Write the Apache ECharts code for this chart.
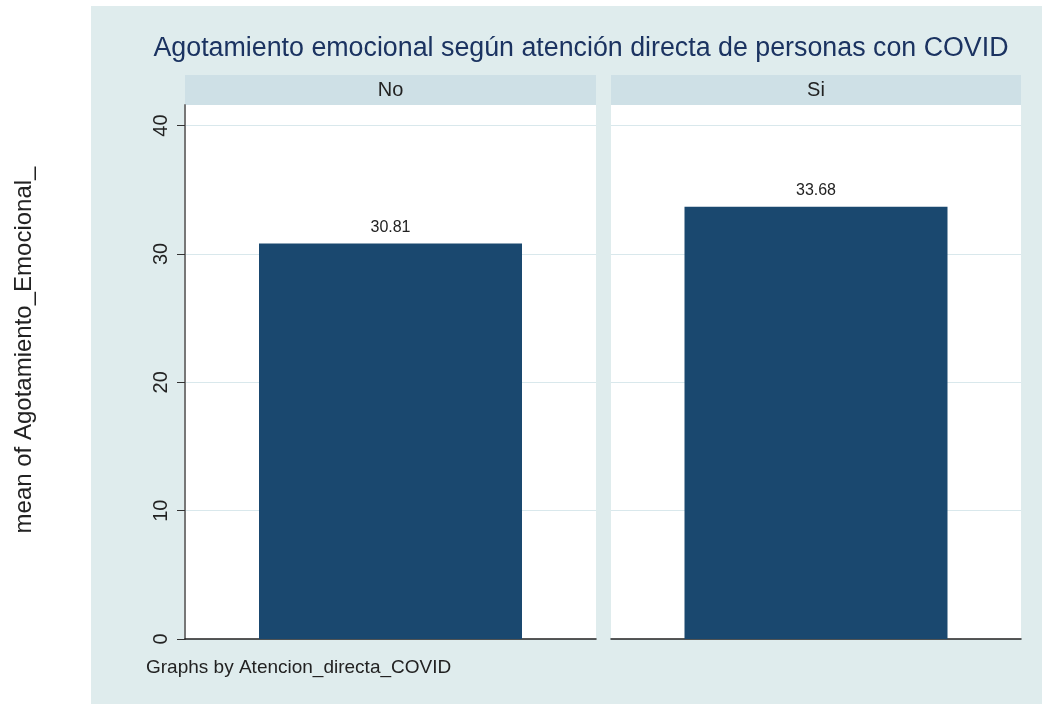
<!DOCTYPE html>
<html>
<head>
<meta charset="utf-8">
<script src="https://cdn.jsdelivr.net/npm/echarts@6/dist/echarts.min.js"></script>
<style>
  html, body { margin: 0; padding: 0; background: #fff; }
  #chart { width: 1042px; height: 704px; }
</style>
</head>
<body>
<div id="chart"></div>
<script>
// panels (by Atencion_directa_COVID) and the mean in each
var panels = ['No', 'Si']
var means = [30.81, 33.68]
var yTicks = [0, 10, 20, 30, 40]

var font = '"Liberation Sans", Arial, sans-serif'
var barColor = '#1a486f'
var gridPos = [
  { left: 185, top: 105, width: 411, height: 534 },
  { left: 611, top: 105, width: 410, height: 534 }
]

var chart = echarts.init(document.getElementById('chart'))

var grids = [], xAxes = [], yAxes = [], series = [], graphics = []

// outer graph region
graphics.push({
  type: 'rect', z: -10, silent: true,
  shape: { x: 91, y: 6, width: 951, height: 698 },
  style: { fill: '#dfeced' }
})

panels.forEach(function (name, i) {
  var g = gridPos[i]
  grids.push({
    left: g.left, top: g.top, width: g.width, height: g.height,
    show: true, backgroundColor: '#fff', borderWidth: 0
  })
  xAxes.push({
    type: 'category', gridIndex: i, data: [name],
    axisLabel: { show: false },
    axisTick: { show: false },
    axisLine: { show: true, lineStyle: { color: '#222', width: 1.5 } }
  })
  yAxes.push({
    type: 'value', gridIndex: i, min: 0, max: 41.6, interval: 10,
    axisLine: { show: i === 0, lineStyle: { color: '#777', width: 2 } },
    axisTick: { show: i === 0, length: 8, customValues: yTicks, lineStyle: { color: '#333', width: 1 } },
    axisLabel: {
      show: i === 0, customValues: yTicks, rotate: 90, margin: 14,
      fontSize: 20, color: '#222', fontFamily: font
    },
    splitLine: { show: true, lineStyle: { color: '#d9e8ec', width: 1 } }
  })
  series.push({
    type: 'bar', xAxisIndex: i, yAxisIndex: i,
    data: [means[i]], barWidth: 263,
    itemStyle: { color: barColor },
    label: {
      show: true, position: 'top', distance: 8,
      formatter: function (p) { return p.value.toFixed(2) },
      fontSize: 16, color: '#222', fontFamily: font
    },
    animation: false
  })
  // strip header
  graphics.push({
    type: 'rect', silent: true,
    shape: { x: g.left, y: 75, width: g.width, height: 30 },
    style: { fill: '#cee0e6' }
  })
  graphics.push({
    type: 'text', silent: true,
    x: g.left + g.width / 2, y: 90,
    style: {
      text: name, fill: '#222', font: '20px ' + font,
      align: 'center', verticalAlign: 'middle'
    }
  })
})

// y axis title (sits outside the graph region)
graphics.push({
  type: 'text', silent: true,
  x: 24, y: 350, rotation: Math.PI / 2,
  style: {
    text: 'mean of Agotamiento_Emocional_', fill: '#222', font: '24px ' + font,
    align: 'center', verticalAlign: 'middle'
  }
})
// note
graphics.push({
  type: 'text', silent: true,
  x: 146, y: 668,
  style: {
    text: 'Graphs by Atencion_directa_COVID', fill: '#222', font: '19px ' + font,
    align: 'left', verticalAlign: 'middle'
  }
})

chart.setOption({
  animation: false,
  title: {
    text: 'Agotamiento emocional según atención directa de personas con COVID',
    left: 576, top: 30, textAlign: 'center',
    textStyle: { fontSize: 26.8, fontWeight: 'normal', color: '#1b3361', fontFamily: font }
  },
  grid: grids,
  xAxis: xAxes,
  yAxis: yAxes,
  series: series,
  graphic: graphics
})
</script>
</body>
</html>
